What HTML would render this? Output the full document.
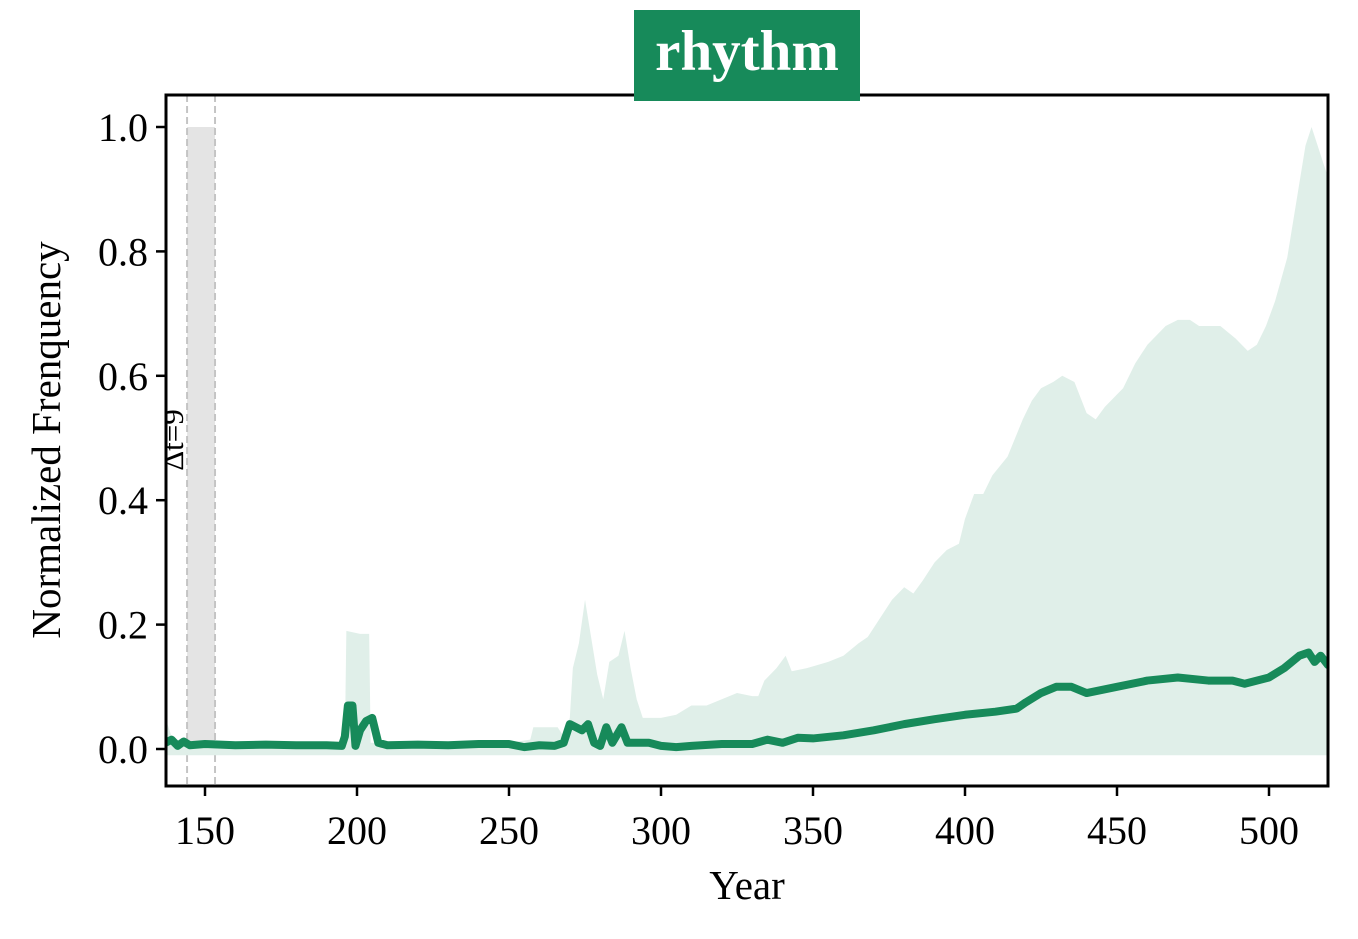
<!DOCTYPE html>
<html><head><meta charset="utf-8"><style>
body{margin:0;background:#fff;}
svg{display:block;font-family:"Liberation Serif",serif;}
</style></head><body>
<svg id="chart" width="1358" height="939" xmlns="http://www.w3.org/2000/svg">
<defs><clipPath id="clip"><rect x="166" y="95" width="1162" height="691"/></clipPath></defs>
<g id="plot" clip-path="url(#clip)"></g>
<rect x="166" y="95" width="1162" height="691" fill="none" stroke="#000" stroke-width="3"/>
<g id="ticks"></g>
<text x="747" y="899" font-size="41" text-anchor="middle">Year</text>
<text transform="translate(60,440) rotate(-90)" font-size="41" text-anchor="middle">Normalized Frenquency</text>
<rect x="634" y="10" width="226" height="91" fill="#178a5a"/>
<text x="747" y="70" font-size="57" font-weight="bold" fill="#fff" text-anchor="middle">rhythm</text>
</svg>
<script>
const upperYears=[137,139,141,195,196,196.5,201,204,204.5,206,250,257,258,266,268,270,271,273,275,277,279,281,283,286,288,290,292,294,296,300,305,310,315,320,325,330,332,334,338,341,343,348,355,360,365,368,372,376,380,383,386,390,394,398,400,403,406,409,414,419,422,425,429,432,436,440,443,446,452,456,460,466,470,474,477,484,489,493,496,499,502,506,509,512,514,516,518,519.4];
const upperVals=[0.05,0.02,0.01,0.01,0.01,0.19,0.185,0.185,0.01,0.01,0.01,0.015,0.035,0.035,0.02,0.05,0.13,0.17,0.24,0.18,0.12,0.08,0.14,0.15,0.19,0.13,0.08,0.05,0.05,0.05,0.055,0.07,0.07,0.08,0.09,0.085,0.085,0.11,0.13,0.15,0.125,0.13,0.14,0.15,0.17,0.18,0.21,0.24,0.26,0.25,0.27,0.30,0.32,0.33,0.37,0.41,0.41,0.44,0.47,0.53,0.56,0.58,0.59,0.60,0.59,0.54,0.53,0.55,0.58,0.62,0.65,0.68,0.69,0.69,0.68,0.68,0.66,0.64,0.65,0.68,0.72,0.79,0.88,0.97,1.00,0.97,0.94,0.92];
const lowerVal=-0.01;
const meanYears=[137,139,141,143,145,150,160,170,180,190,195,196,197,198.5,199.5,201,203,205,207,210,220,230,240,250,255,260,265,268,270,272,274,276,278,280,282,284,287,289,292,296,300,305,310,320,330,335,340,345,350,360,370,380,390,400,410,417,420,425,430,435,440,445,450,460,470,480,488,492,500,505,510,513,515,517,519.4];
const meanVals=[0.01,0.015,0.005,0.012,0.006,0.008,0.006,0.007,0.006,0.006,0.005,0.02,0.07,0.07,0.005,0.03,0.045,0.05,0.01,0.006,0.007,0.006,0.008,0.008,0.003,0.006,0.005,0.01,0.04,0.035,0.03,0.04,0.01,0.005,0.035,0.01,0.035,0.01,0.01,0.01,0.005,0.003,0.005,0.008,0.008,0.015,0.01,0.018,0.017,0.022,0.03,0.04,0.048,0.055,0.06,0.065,0.075,0.09,0.1,0.1,0.09,0.095,0.1,0.11,0.115,0.11,0.11,0.105,0.115,0.13,0.15,0.155,0.14,0.15,0.135];
const xTicks=[150,200,250,300,350,400,450,500];
const yTicks=[0.0,0.2,0.4,0.6,0.8,1.0];
const bandStart=144.1, bandEnd=153.3, bandLabel="Δt=9";

const NS="http://www.w3.org/2000/svg";
const X=v=>205+(v-150)*3.04;
const Y=v=>749-v*622;
function mk(tag,attrs,parent){const e=document.createElementNS(NS,tag);for(const k in attrs)e.setAttribute(k,attrs[k]);parent.appendChild(e);return e;}
const plot=document.getElementById('plot'), ticks=document.getElementById('ticks');

const band=mk('rect',{x:X(bandStart),y:Y(1),width:X(bandEnd)-X(bandStart),height:Y(0)-Y(1),fill:'#e4e4e4'},plot);


[bandStart,bandEnd].forEach(b=>{
  const l=mk('line',{x1:X(b),x2:X(b),y1:95,y2:786,stroke:'#c4c4c4','stroke-width':2,'stroke-dasharray':'7,4'},plot);
  
  
});

let d='M'+X(upperYears[0])+','+Y(upperVals[0]);
for(let i=1;i<upperYears.length;i++)d+=' L'+X(upperYears[i])+','+Y(upperVals[i]);
d+=' L'+X(upperYears[upperYears.length-1])+','+Y(lowerVal)+' L'+X(upperYears[0])+','+Y(lowerVal)+' Z';
const area=mk('path',{d:d,fill:'#e0efe9'},plot);



let m='M'+X(meanYears[0])+','+Y(meanVals[0]);
for(let i=1;i<meanYears.length;i++)m+=' L'+X(meanYears[i])+','+Y(meanVals[i]);
const line=mk('path',{d:m,fill:'none',stroke:'#178a5a','stroke-width':8,'stroke-linejoin':'round','stroke-linecap':'round'},plot);



const bl=mk('text',{transform:`translate(${X(bandStart)-4},440) rotate(-90)`,'font-size':31,'text-anchor':'middle'},plot);
bl.textContent=bandLabel;



xTicks.forEach(t=>{
  const tl=mk('line',{x1:X(t),x2:X(t),y1:786,y2:796,stroke:'#000','stroke-width':2.5},ticks);
  
  
  const tx=mk('text',{x:X(t),y:844,'font-size':40,'text-anchor':'middle'},ticks);
  tx.textContent=t;
  
  
});
yTicks.forEach(t=>{
  const tl=mk('line',{x1:156,x2:166,y1:Y(t),y2:Y(t),stroke:'#000','stroke-width':2.5},ticks);
  
  
  const tx=mk('text',{x:148,y:Y(t)+14,'font-size':40,'text-anchor':'end'},ticks);
  tx.textContent=t.toFixed(1);
  
  
});
</script>
</body></html>
